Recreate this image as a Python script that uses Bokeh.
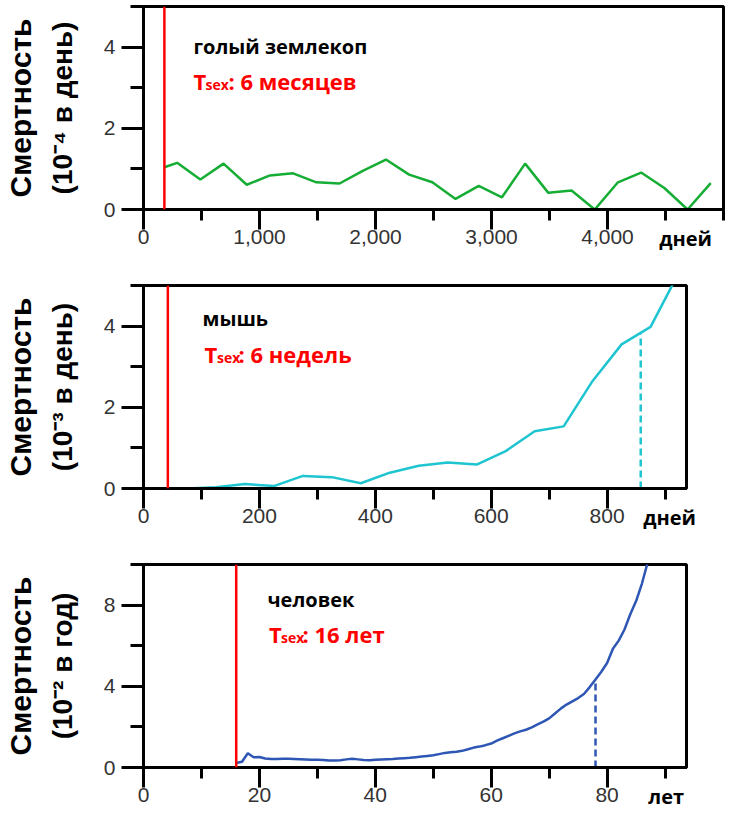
import math
import numpy as np
from bokeh.plotting import figure
from bokeh.models import (Range1d, FixedTicker, NumeralTickFormatter, Span,
                          Label, LinearAxis)
from bokeh.layouts import column
from bokeh.embed import file_html
from bokeh.resources import INLINE

# ------------------------------------------------------------------ data
mole_days = [180, 290, 490, 690, 890, 1090, 1290, 1490, 1690, 1890, 2090, 2290,
             2490, 2690, 2890, 3090, 3290, 3490, 3690, 3890, 4090, 4290, 4490,
             4690, 4890]
mole_rate = [1.04, 1.15, 0.74, 1.13, 0.61, 0.84, 0.89, 0.67, 0.64, 0.95, 1.23,
             0.86, 0.67, 0.26, 0.58, 0.30, 1.13, 0.41, 0.47, 0.0, 0.67, 0.91,
             0.53, 0.0, 0.65]
mole_tsex = 180

mouse_days = [75, 125, 175, 225, 275, 325, 375, 425, 475, 525, 575, 625, 675,
              725, 775, 825, 875, 925]
mouse_rate = [0.0, 0.03, 0.11, 0.06, 0.31, 0.28, 0.13, 0.39, 0.56, 0.64, 0.59,
              0.92, 1.41, 1.53, 2.65, 3.55, 3.98, 5.35]
mouse_tsex = 42
mouse_median = 858

human_age = list(range(16, 89))
human_rate = [0.22, 0.28, 0.70, 0.50, 0.52, 0.44, 0.42, 0.42, 0.43, 0.43,
              0.42, 0.41, 0.40, 0.38, 0.38, 0.37, 0.35, 0.34, 0.36, 0.40,
              0.43, 0.40, 0.37, 0.36, 0.38, 0.40, 0.41, 0.42, 0.44, 0.46,
              0.48, 0.51, 0.54, 0.57, 0.60, 0.66, 0.72, 0.75, 0.78, 0.82,
              0.90, 0.98, 1.03, 1.10, 1.18, 1.32, 1.44, 1.56, 1.68, 1.78,
              1.86, 1.98, 2.12, 2.26, 2.42, 2.66, 2.90, 3.10, 3.26, 3.42,
              3.62, 3.96, 4.34, 4.72, 5.15, 5.85, 6.25, 6.80, 7.55, 8.20,
              9.05, 10.1, 11.4]
human_tsex = 16
human_median = 78

mole_xticks = [0, 1000, 2000, 3000, 4000]
mole_xminor = [500, 1500, 2500, 3500, 4500, 5000]
mouse_xticks = [0, 200, 400, 600, 800]
mouse_xminor = [100, 300, 500, 700, 900]
human_xticks = [0, 20, 40, 60, 80]
human_xminor = [10, 30, 50, 70, 90]
rate5_yticks = [0, 2, 4]
rate5_yminor = [1, 3, 5]
rate10_yticks = [0, 4, 8]
rate10_yminor = [2, 6, 10]

y_title = "Смертность"
titles = [
    ("голый землекоп", "6 месяцев", "(10⁻⁴ в день)", "дней"),
    ("мышь", "6 недель", "(10⁻³ в день)", "дней"),
    ("человек", "16 лет", "(10⁻² в год)", "лет"),
]

# ------------------------------------------------------------------ style
RED = "#ff0000"
GREEN = "#16ad35"
CYAN = "#1ec5d0"
BLUE = "#2e56b4"
TXT_FONT = "Open Sans"
TITLE_FONT = "Liberation Sans"
TICK_FONT = "Liberation Sans"
LEFT = 143
RIGHT = 15
FRAME_H = 203


def make_fig(height, frame_w, top, xr, yr, xt, xm, yt, ym, fmt=None):
    bottom = height - top - FRAME_H
    p = figure(width=LEFT + frame_w + RIGHT, height=height,
               x_range=Range1d(*xr), y_range=Range1d(*yr),
               output_backend="svg", toolbar_location=None,
               min_border_left=LEFT, min_border_right=RIGHT,
               min_border_top=top, min_border_bottom=bottom)
    p.xgrid.visible = False
    p.ygrid.visible = False
    p.outline_line_color = "black"
    p.outline_line_width = 3
    p.outline_line_alpha = 1
    p.background_fill_color = "white"
    p.border_fill_color = "white"
    p.xaxis.ticker = FixedTicker(ticks=xt, minor_ticks=xm)
    p.yaxis.ticker = FixedTicker(ticks=yt, minor_ticks=ym)
    if fmt is not None:
        p.xaxis.formatter = fmt
    for ax in (p.xaxis, p.yaxis):
        ax.axis_line_width = 3
        ax.axis_line_color = "black"
        ax.major_tick_line_width = 3
        ax.minor_tick_line_width = 3
        ax.major_tick_line_color = "black"
        ax.minor_tick_line_color = "black"
        ax.major_tick_in = 0
        ax.minor_tick_in = 0
        ax.major_label_text_font = TICK_FONT
        ax.major_label_text_font_size = "21px"
        ax.major_label_text_color = "#333333"
    p.xaxis.major_tick_out = 20
    p.xaxis.minor_tick_out = 11
    p.xaxis.major_label_standoff = 0
    p.yaxis.major_tick_out = 22
    p.yaxis.minor_tick_out = 13
    p.yaxis.major_label_standoff = 6
    return p


def title_axis(p, text, standoff, size):
    """An extra left axis that only carries the bold y-axis title line."""
    ax = LinearAxis(ticker=FixedTicker(ticks=[], minor_ticks=[]),
                    axis_line_alpha=0, major_tick_out=0, minor_tick_out=0,
                    major_tick_in=0, minor_tick_in=0, major_label_standoff=0,
                    major_label_text_font_size="0px",
                    axis_label=text, axis_label_standoff=standoff,
                    axis_label_text_font=TITLE_FONT,
                    axis_label_text_font_style="bold",
                    axis_label_text_font_size=size,
                    axis_label_text_color="black")
    p.add_layout(ax, "left")


def unit_axis(p, text, tick):
    """An extra bottom axis whose single tick label is the x unit."""
    ax = LinearAxis(ticker=FixedTicker(ticks=[tick], minor_ticks=[]),
                    major_label_overrides={tick: text},
                    axis_line_alpha=0, major_tick_line_alpha=0,
                    minor_tick_line_alpha=0, major_tick_out=0,
                    minor_tick_out=0, major_tick_in=0, minor_tick_in=0,
                    major_label_standoff=-22,
                    major_label_text_font=TXT_FONT,
                    major_label_text_font_style="bold",
                    major_label_text_font_size="20px",
                    major_label_text_color="black")
    p.add_layout(ax, "below")


def add_texts(p, xr, yr, fw, spec):
    name, tsex_text, unit_text, xunit = spec[0]
    (nx, ny), (tx, ty), (sx, rx), ucx = spec[1]

    def cx(px):
        return xr[0] + px * (xr[1] - xr[0]) / fw

    def cy(py):
        return yr[1] - py * (yr[1] - yr[0]) / FRAME_H

    def lab(px, py, text, size, color):
        p.add_layout(Label(x=cx(px), y=cy(py), text=text, text_font=TXT_FONT,
                           text_font_style="bold", text_font_size=size,
                           text_color=color, text_baseline="alphabetic"))

    lab(nx, ny, name, "20px", "black")
    lab(tx, ty, "T", "22px", RED)
    lab(sx, ty + 4, "sex", "14px", RED)
    lab(rx, ty, ": " + tsex_text, "22px", RED)
    # unit of the x axis, written beside the tick labels
    unit_axis(p, xunit, round(cx(ucx), 1))
    # two-line title of the y axis
    title_axis(p, unit_text, 23, "28px")
    title_axis(p, y_title, 7, "30px")


# ------------------------------------------------------------------ panel 1
xr1, yr1 = (0, 5000), (0, 5)
p1 = make_fig(260, 580, 6, xr1, yr1, mole_xticks, mole_xminor,
              rate5_yticks, rate5_yminor, NumeralTickFormatter(format="0,0"))
p1.line(mole_days, mole_rate, line_color=GREEN, line_width=2.5)
p1.add_layout(Span(location=mole_tsex, dimension="height", line_color=RED,
                   line_width=2.5))
add_texts(p1, xr1, yr1, 580,
          (titles[0], ((50, 40), (50, 74), (62, 85), 542)))

# ------------------------------------------------------------------ panel 2
xr2, yr2 = (0, 937), (0, 5)
p2 = make_fig(278, 543, 25, xr2, yr2, mouse_xticks, mouse_xminor,
              rate5_yticks, rate5_yminor)
p2.line(mouse_days, mouse_rate, line_color=CYAN, line_width=2.5)
p2.add_layout(Span(location=mouse_tsex, dimension="height", line_color=RED,
                   line_width=2.5))
m_top = float(np.interp(mouse_median, mouse_days, mouse_rate))
p2.segment(x0=[mouse_median], y0=[0], x1=[mouse_median], y1=[m_top],
           line_color=CYAN, line_width=2.5, line_dash="7 4")
add_texts(p2, xr2, yr2, 543,
          (titles[1], ((59, 33), (61, 68), (73.5, 95), 526)))

# ------------------------------------------------------------------ panel 3
xr3, yr3 = (0, 93.7), (0, 10)
p3 = make_fig(274, 543, 26, xr3, yr3, human_xticks, human_xminor,
              rate10_yticks, rate10_yminor)
p3.line(human_age, human_rate, line_color=BLUE, line_width=2.5)
p3.add_layout(Span(location=human_tsex, dimension="height", line_color=RED,
                   line_width=2.5))
h_top = float(np.interp(human_median, human_age, human_rate))
p3.segment(x0=[human_median], y0=[0], x1=[human_median], y1=[h_top],
           line_color=BLUE, line_width=2.5, line_dash="7 4")
add_texts(p3, xr3, yr3, 543,
          (titles[2], ((124, 35), (125.5, 69), (137.5, 159), 523)))

layout = column(p1, p2, p3)
open("out.html", "w").write(file_html(layout, INLINE))
